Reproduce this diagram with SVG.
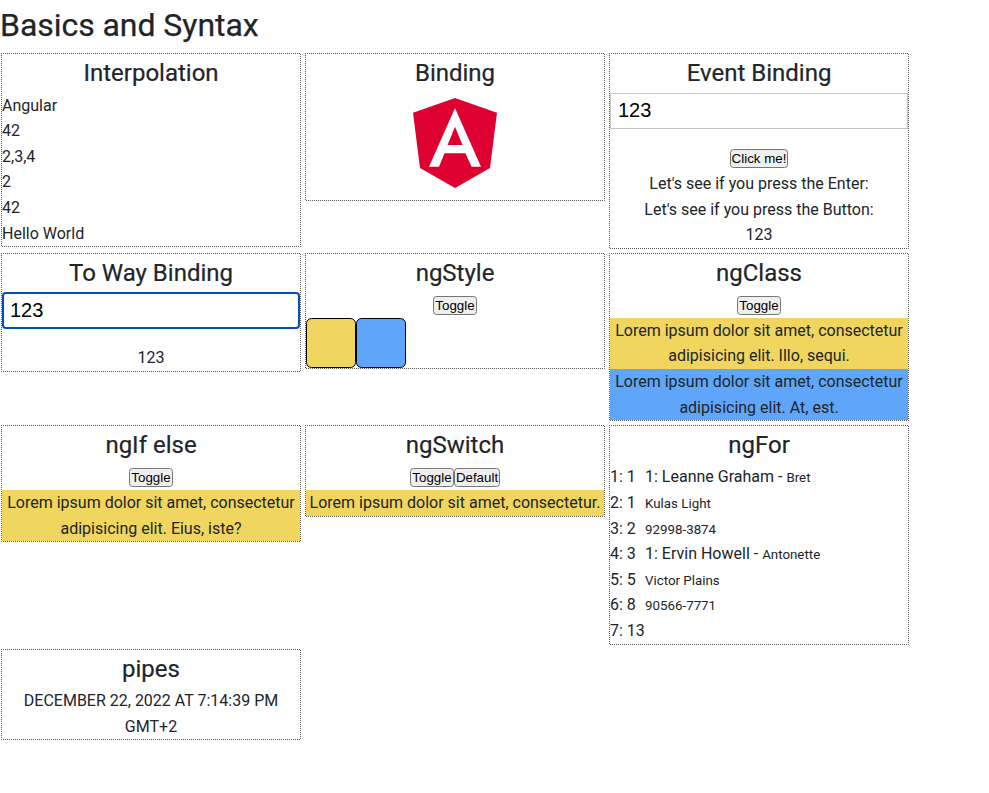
<svg xmlns="http://www.w3.org/2000/svg" width="989" height="793" viewBox="0 0 989 793">
<style>
text{font-family:Roboto,"Liberation Sans",sans-serif;fill:#212529;font-size:16px}
.t{font-size:32px;letter-spacing:-.05px;stroke:#212529;stroke-width:.25}
.h{font-size:24px;text-anchor:middle;stroke:#212529;stroke-width:.2}
.c{text-anchor:middle}
.s{font-size:13.33px}
.box{fill:none;stroke:#555;stroke-width:1;stroke-dasharray:1 1;stroke-dashoffset:.5}
.btn{fill:#efefef;stroke:#767676;stroke-width:1}
.bt{font-family:"Liberation Sans",Arial,sans-serif;font-size:13.33px;fill:#000;text-anchor:middle}
.in{font-family:"Liberation Sans",Arial,sans-serif;font-size:20px;fill:#000}
.y{fill:#f0d65f}
.b{fill:#5fa6fb}
</style>
<rect width="989" height="793" fill="#fff"/>
<text class="t" x="0" y="36">Basics and Syntax</text>
<g id="interpolation">
<rect class="box" x="1.5" y="53.5" width="299" height="193"/>
<text class="h" x="151" y="81">Interpolation</text>
<text x="2" y="111">Angular</text>
<text x="2" y="136">42</text>
<text x="2" y="162">2,3,4</text>
<text x="2" y="187">2</text>
<text x="2" y="213">42</text>
<text x="2" y="239">Hello World</text>
</g>
<g id="binding">
<rect class="box" x="305.5" y="53.5" width="299" height="147"/>
<text class="h" x="455" y="81">Binding</text>
<polygon points="455,98 413,112.7 420,168 455,188 490,168 497,112.7" fill="#dd0031"/>
<path d="M455,108 L429,166.7 H439 L444.5,153.3 H465.5 L471.5,166.7 H481 Z M455,126.7 L462.5,145 H447.5 Z" fill="#fff" fill-rule="evenodd"/>
</g>
<g id="event-binding">
<rect class="box" x="609.5" y="53.5" width="299" height="195"/>
<text class="h" x="759" y="81">Event Binding</text>
<rect x="610.5" y="93.5" width="297" height="35" fill="#fff" stroke="#c4c4c4"/>
<text class="in" x="618" y="117">123</text>
<rect class="btn" x="730.5" y="149.5" width="57" height="18" rx="3"/>
<text class="bt" x="759" y="163">Click me!</text>
<text class="c" x="759" y="189">Let's see if you press the Enter:</text>
<text class="c" x="759" y="215">Let's see if you press the Button:</text>
<text class="c" x="759" y="240">123</text>
</g>
<g id="two-way-binding">
<rect class="box" x="1.5" y="253.5" width="299" height="118"/>
<text class="h" x="151" y="281">To Way Binding</text>
<rect x="3" y="293" width="296" height="35" rx="3" fill="#fff" stroke="#0050b8" stroke-width="2"/>
<text class="in" x="10" y="317">123</text>
<text class="c" x="151" y="363">123</text>
</g>
<g id="ngstyle">
<rect class="box" x="305.5" y="253.5" width="299" height="115"/>
<text class="h" x="455" y="281">ngStyle</text>
<rect class="btn" x="433.5" y="296.5" width="43" height="18" rx="3"/>
<text class="bt" x="455" y="310">Toggle</text>
<rect class="y" x="306.5" y="318.5" width="49" height="49" rx="5" stroke="#000"/>
<rect class="b" x="356.5" y="318.5" width="49" height="49" rx="5" stroke="#000"/>
</g>
<g id="ngclass">
<rect class="y" x="610" y="318" width="298" height="51"/>
<rect class="b" x="610" y="369" width="298" height="51"/>
<rect class="box" x="609.5" y="253.5" width="299" height="167"/>
<text class="h" x="759" y="281">ngClass</text>
<rect class="btn" x="737.5" y="296.5" width="43" height="18" rx="3"/>
<text class="bt" x="759" y="310">Toggle</text>
<text class="c" x="759" y="336">Lorem ipsum dolor sit amet, consectetur</text>
<text class="c" x="759" y="361">adipisicing elit. Illo, sequi.</text>
<text class="c" x="759" y="387">Lorem ipsum dolor sit amet, consectetur</text>
<text class="c" x="759" y="413">adipisicing elit. At, est.</text>
</g>
<g id="ngif-else">
<rect class="y" x="2" y="490" width="298" height="51"/>
<rect class="box" x="1.5" y="425.5" width="299" height="116"/>
<text class="h" x="151" y="453">ngIf else</text>
<rect class="btn" x="129.5" y="468.5" width="43" height="18" rx="3"/>
<text class="bt" x="151" y="482">Toggle</text>
<text class="c" x="151" y="508">Lorem ipsum dolor sit amet, consectetur</text>
<text class="c" x="151" y="534">adipisicing elit. Eius, iste?</text>
</g>
<g id="ngswitch">
<rect class="y" x="306" y="490" width="298" height="26"/>
<rect class="box" x="305.5" y="425.5" width="299" height="91"/>
<text class="h" x="455" y="453">ngSwitch</text>
<rect class="btn" x="410.5" y="468.5" width="43" height="18" rx="3"/>
<text class="bt" x="432" y="482">Toggle</text>
<rect class="btn" x="454.5" y="468.5" width="45" height="18" rx="3"/>
<text class="bt" x="477" y="482">Default</text>
<text class="c" x="455" y="508">Lorem ipsum dolor sit amet, consectetur.</text>
</g>
<g id="ngfor">
<rect class="box" x="609.5" y="425.5" width="299" height="219"/>
<text class="h" x="759" y="453">ngFor</text>
<text x="610" y="482">1: 1</text>
<text x="610" y="508">2: 1</text>
<text x="610" y="534">3: 2</text>
<text x="610" y="559">4: 3</text>
<text x="610" y="585">5: 5</text>
<text x="610" y="610">6: 8</text>
<text x="610" y="636">7: 13</text>
<text x="645" y="482">1: Leanne Graham - <tspan class="s">Bret</tspan></text>
<text class="s" x="645" y="508">Kulas Light</text>
<text class="s" x="645" y="534">92998-3874</text>
<text x="645" y="559">1: Ervin Howell - <tspan class="s">Antonette</tspan></text>
<text class="s" x="645" y="585">Victor Plains</text>
<text class="s" x="645" y="610">90566-7771</text>
</g>
<g id="pipes">
<rect class="box" x="1.5" y="649.5" width="299" height="90"/>
<text class="h" x="151" y="677">pipes</text>
<text class="c" x="151" y="706">DECEMBER 22, 2022 AT 7:14:39 PM</text>
<text class="c" x="151" y="732">GMT+2</text>
</g>
</svg>
